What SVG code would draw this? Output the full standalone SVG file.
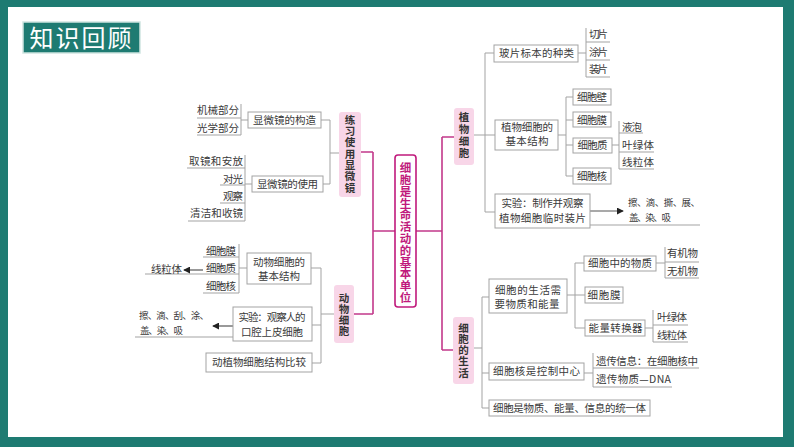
<svg xmlns="http://www.w3.org/2000/svg" width="794" height="447" viewBox="0 0 794 447">
<style>
.t{font-family:"Noto Sans CJK SC","Noto Sans",sans-serif;font-size:10.5px;fill:#3a3a3a}
.s{font-size:9.5px}
.m{text-anchor:middle}
.e{text-anchor:end}
.box{fill:#fff;stroke:#a3a3a3;stroke-width:1}
.ln{stroke:#a3a3a3;stroke-width:1;fill:none}
.ar{stroke:#555;stroke-width:1.2;fill:none;marker-end:url(#arr)}
.mg{stroke:#c2388a;stroke-width:1.6;fill:none}
.pk{fill:#f8d6e8}
.pt{font-family:"Noto Sans CJK SC","Noto Sans",sans-serif;font-size:10.5px;font-weight:bold;fill:#333;writing-mode:vertical-rl;text-anchor:start}
.ct{font-family:"Noto Sans CJK SC","Noto Sans",sans-serif;font-size:11.5px;font-weight:bold;fill:#c01a7c;writing-mode:vertical-rl;text-anchor:start;letter-spacing:0.3px}
</style>
<defs>
<marker id="arr" viewBox="0 0 8 8" refX="7" refY="4" markerWidth="7" markerHeight="7" markerUnits="userSpaceOnUse" orient="auto">
<path d="M0,0 L8,4 L0,8 z" fill="#222"/>
</marker>
</defs>
<rect width="794" height="447" fill="#1e7b72"/>
<rect x="8" y="7" width="775" height="430" fill="#fff"/>
<g id="title">
<rect x="23" y="22" width="117" height="31" fill="#1e7b72" stroke="#cfe5e1" stroke-width="1.5"/>
<text x="81.5" y="46.5" font-family="'Noto Sans CJK SC',sans-serif" font-size="24" fill="#fff" text-anchor="middle" letter-spacing="2">知识回顾</text>
</g>
<g id="connectors">
<path class="mg" d="M373 231H395M416 231H442M373 152V314M361 152H373M354 314H373M442 137V350M442 137H454M442 350H453"/>
<path class="ln" d="M339 153H330M330 120V184M321 120H330M323 184H330
M248 120H241M241 104V135M197 118H241M197 135H241
M252 184H245M245 155V221M187 168H245M220 185H245M220 203H245M188 221H245
M335 314H321M321 268V363M311 268H321M312 325H321M312 363H321
M247 268H239M239 244V293M203 257H239M145 274H239M203 293H239M135 337H233
M474 135H485M485 53V212M485 53H494M485 135H495M485 212H495
M578 53H586M586 28V77M586 42H610M586 60H610M586 77H610
M558 135H566M566 97V176M566 97H573M566 120H573M566 145H573M566 176H573
M612 145H619M619 121V169M619 133H643M619 152H654M619 169H654
M590 225H700
M474 348H482M482 297V408M482 297H489M482 373H489M482 408H489
M567 295H575M575 263V328M575 263H584M575 295H585M575 328H585
M656 263H665M665 247V278M665 262H699M665 278H699
M645 328H653M653 310V342M653 325H688M653 342H688
M584 373H593M593 353V387M593 368H699M593 387H672"/>
<path class="ar" d="M203 270H184"/>
<path class="ar" d="M233 326H213"/>
<path class="ar" d="M590 211H623"/>
</g>
<g id="center">
<rect x="395" y="155" width="21" height="152" rx="3" fill="#fff" stroke="#c01a7c" stroke-width="1.6"/>
<text class="ct" x="405.5" y="162">细胞是生命活动的基本单位</text>
</g>
<g id="n-microscope">
<rect class="pk" x="339" y="112" width="22" height="85" rx="3"/>
<text class="pt" x="350" y="114.3" letter-spacing="0.83">练习使用显微镜</text>
</g>
<g id="n-structure">
<rect class="box" x="248" y="112" width="73" height="16"/>
<text class="t m" x="284.5" y="123.8" textLength="63">显微镜的构造</text>
<text class="t e" x="239" y="113.8" textLength="42">机械部分</text>
<text class="t e" x="239" y="131.8" textLength="42">光学部分</text>
</g>
<g id="n-use">
<rect class="box" x="252" y="176" width="71" height="16"/>
<text class="t m" x="287.5" y="187.8" textLength="61">显微镜的使用</text>
<text class="t e" x="243" y="164.8" textLength="54">取镜和安放</text>
<text class="t e" x="243" y="182.8" textLength="20">对光</text>
<text class="t e" x="243" y="199.8" textLength="20">观察</text>
<text class="t e" x="243" y="216.8" textLength="53">清洁和收镜</text>
</g>
<g id="n-animal">
<rect class="pk" x="334" y="285" width="20" height="58" rx="3"/>
<text class="pt" x="344" y="292.3" letter-spacing="0.8">动物细胞</text>
</g>
<g id="n-animal-structure">
<rect class="box" x="247" y="253" width="64" height="31"/>
<text class="t m" x="279" y="266" textLength="52">动物细胞的</text>
<text class="t m" x="279" y="279.5" textLength="42">基本结构</text>
<text class="t e" x="236" y="254.8" textLength="30">细胞膜</text>
<text class="t e" x="236" y="272.3" textLength="30">细胞质</text>
<text class="t e" x="236" y="289.8" textLength="30">细胞核</text>
<text class="t" x="151" y="273.3" textLength="31">线粒体</text>
</g>
<g id="n-animal-exp">
<rect class="box" x="233" y="307" width="79" height="34"/>
<text class="t m" x="272" y="320.8" textLength="67">实验：观察人的</text>
<text class="t m" x="272" y="335.8" textLength="62">口腔上皮细胞</text>
<text class="t s" x="139" y="319.3" textLength="70">擦、滴、刮、涂、</text>
<text class="t s" x="140" y="333.5" textLength="43">盖、染、吸</text>
</g>
<g id="n-compare">
<rect class="box" x="206" y="353" width="106" height="19"/>
<text class="t m" x="259" y="366.3" textLength="94">动植物细胞结构比较</text>
</g>
<g id="n-plant">
<rect class="pk" x="454" y="108" width="20" height="57" rx="3"/>
<text class="pt" x="464" y="112.2" letter-spacing="1.2">植物细胞</text>
</g>
<g id="n-slides">
<rect class="box" x="494" y="45" width="84" height="17"/>
<text class="t m" x="536.5" y="57" textLength="75">玻片标本的种类</text>
<text class="t" x="589" y="37.8" textLength="19">切片</text>
<text class="t" x="589" y="55.8" textLength="19">涂片</text>
<text class="t" x="589" y="72.8" textLength="19">装片</text>
</g>
<g id="n-plant-structure">
<rect class="box" x="495" y="120" width="63" height="30"/>
<text class="t m" x="527" y="130.8" textLength="52">植物细胞的</text>
<text class="t m" x="527" y="144.8" textLength="43">基本结构</text>
<rect class="box" x="573" y="89" width="38" height="16"/>
<text class="t m" x="592" y="100.8" textLength="30">细胞壁</text>
<rect class="box" x="573" y="112" width="38" height="15"/>
<text class="t m" x="592" y="123.5" textLength="30">细胞膜</text>
<rect class="box" x="573" y="138" width="39" height="15"/>
<text class="t m" x="592.5" y="149.3" textLength="30">细胞质</text>
<rect class="box" x="573" y="168" width="38" height="16"/>
<text class="t m" x="592" y="179.8" textLength="30">细胞核</text>
<text class="t" x="622" y="130.8" textLength="20">液泡</text>
<text class="t" x="622" y="148.8" textLength="32">叶绿体</text>
<text class="t" x="622" y="165.8" textLength="32">线粒体</text>
</g>
<g id="n-plant-exp">
<rect class="box" x="495" y="194" width="95" height="34"/>
<text class="t m" x="542.5" y="206.8" textLength="82">实验：制作并观察</text>
<text class="t m" x="542.5" y="221.8" textLength="87">植物细胞临时装片</text>
<text class="t s" x="628" y="206.3" textLength="72">擦、滴、撕、展、</text>
<text class="t s" x="629" y="220.8" textLength="42">盖、染、吸</text>
</g>
<g id="n-life">
<rect class="pk" x="453" y="317" width="21" height="67" rx="3"/>
<text class="pt" x="463.5" y="322.4" letter-spacing="0.75">细胞的生活</text>
</g>
<g id="n-need">
<rect class="box" x="489" y="279" width="78" height="34"/>
<text class="t m" x="528" y="293.8" textLength="66">细胞的生活需</text>
<text class="t m" x="527" y="307.8" textLength="65">要物质和能量</text>
<rect class="box" x="584" y="256" width="72" height="15"/>
<text class="t m" x="620" y="267" textLength="64">细胞中的物质</text>
<text class="t" x="667" y="256.8" textLength="31">有机物</text>
<text class="t" x="667" y="274.8" textLength="31">无机物</text>
<rect class="box" x="585" y="287" width="38" height="16"/>
<text class="t m" x="604" y="298.8" textLength="33">细胞膜</text>
<rect class="box" x="585" y="320" width="60" height="16"/>
<text class="t m" x="615.5" y="331.8" textLength="54">能量转换器</text>
<text class="t" x="657" y="320.8" textLength="30">叶绿体</text>
<text class="t" x="657" y="338.8" textLength="30">线粒体</text>
</g>
<g id="n-nucleus">
<rect class="box" x="489" y="363" width="95" height="17"/>
<text class="t m" x="536.5" y="375.3" textLength="87">细胞核是控制中心</text>
<text class="t" x="596" y="364.8" textLength="102">遗传信息：在细胞核中</text>
<text class="t" x="596" y="382.8" textLength="75">遗传物质—DNA</text>
</g>
<g id="n-unity">
<rect class="box" x="489" y="400" width="161" height="16"/>
<text class="t m" x="569.5" y="411.8" textLength="153">细胞是物质、能量、信息的统一体</text>
</g>
</svg>
